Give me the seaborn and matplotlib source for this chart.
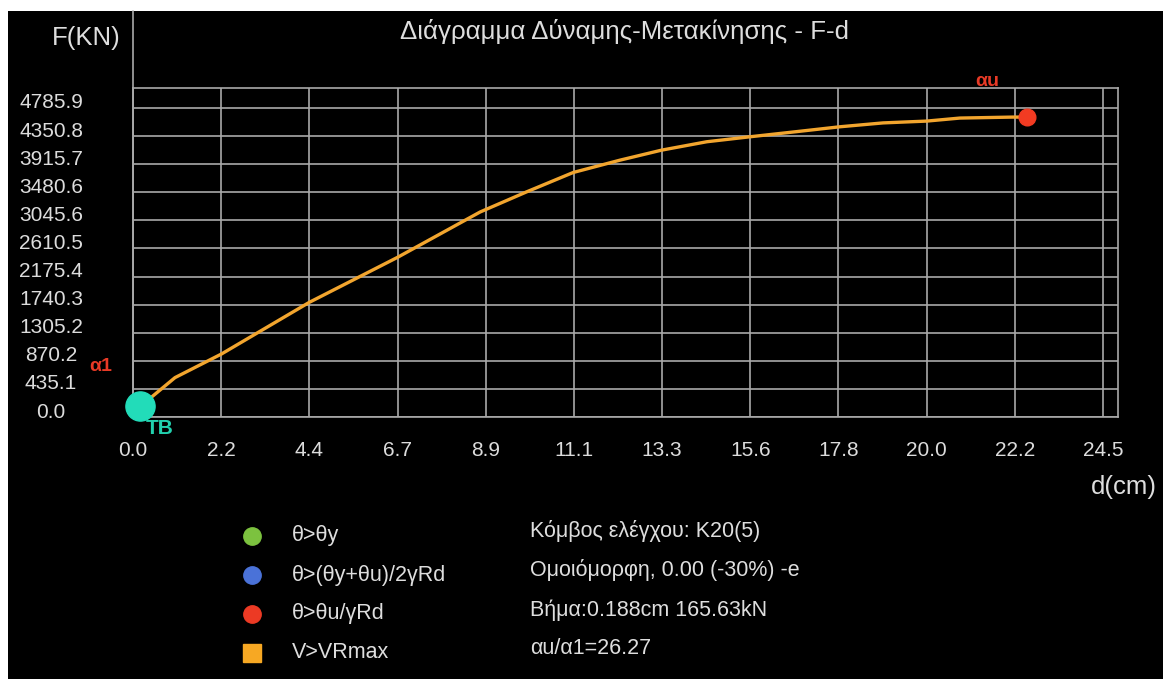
import numpy as np
import matplotlib
matplotlib.use("Agg")
import matplotlib.pyplot as plt
from matplotlib.lines import Line2D
from matplotlib.patches import Rectangle
from matplotlib.transforms import ScaledTranslation
import pandas as pd
import seaborn as sns

# Pushover curve: control-node displacement d (cm) against base shear F (kN)
d_cm = [0.188, 1.06, 2.23, 4.45, 6.68, 8.76, 9.93, 11.11, 12.29, 13.34,
        14.48, 15.57, 16.75, 17.84, 18.93, 20.03, 20.87, 22.20, 22.56]
F_kN = [165.63, 610, 975, 1776, 2474, 3175, 3486, 3787, 3978, 4133,
        4263, 4340, 4420, 4495, 4555, 4583, 4630, 4645, 4645]

# axis ticks
x_tick_labels = ["0.0", "2.2", "4.4", "6.7", "8.9", "11.1", "13.3",
                 "15.6", "17.8", "20.0", "22.2", "24.5"]
x_tick_step = 2.2255
y_tick_labels = ["0.0", "435.1", "870.2", "1305.2", "1740.3", "2175.4",
                 "2610.5", "3045.6", "3480.6", "3915.7", "4350.8", "4785.9"]
y_tick_step = 435.08

# hinge-state legend
legend_labels = ["θ>θy", "θ>(θy+θu)/2γRd", "θ>θu/γRd", "V>VRmax"]
legend_colors = ["#7cc23f", "#4a72d8", "#ec3a24", "#f7a823"]
legend_markers = ["o", "o", "o", "s"]

# analysis info
info_lines = ["Κόμβος ελέγχου: K20(5)",
              "Ομοιόμορφη, 0.00 (-30%) -e",
              "Βήμα:0.188cm 165.63kN",
              "αu/α1=26.27"]

sns.set_theme(style="dark")
plt.rcParams["font.family"] = ["Liberation Sans", "DejaVu Sans"]

W, H = 1163, 679
fig = plt.figure(figsize=(W / 100, H / 100), dpi=100, facecolor="white")
fig.add_artist(Rectangle((8 / W, 0), 1 - 8 / W, 1 - 11 / H,
                         transform=fig.transFigure, facecolor="black",
                         edgecolor="none", zorder=0))

ax = fig.add_axes([133 / W, 1 - 417 / H, 985 / W, 329 / H])
ax.set_facecolor("black")

df = pd.DataFrame({"d": d_cm, "F": F_kN})
sns.lineplot(data=df, x="d", y="F", ax=ax, color="#f2a52e", lw=2.4,
             sort=False, estimator=None, zorder=3)

# yield point and ultimate point
first = df.iloc[0]
last = df.iloc[-1]
ax.plot([first.d], [first.F], "o", ms=21, color="#22dcb9", zorder=5,
        clip_on=False)
ax.plot([last.d], [last.F], "o", ms=12, color="#f23b22", zorder=5,
        clip_on=False)
ax.annotate("α1", (first.d, first.F), xytext=(-40, 40),
            textcoords="offset pixels", ha="center", va="center",
            color="#e83a26", fontsize=14, fontweight="bold",
            annotation_clip=False)
ax.annotate("TB", (first.d, first.F), xytext=(19, -22),
            textcoords="offset pixels", ha="center", va="center",
            color="#22d0ae", fontsize=15, fontweight="bold",
            annotation_clip=False)
ax.annotate("αu", (last.d, last.F), xytext=(-40, 36),
            textcoords="offset pixels", ha="center", va="center",
            color="#e83a26", fontsize=14, fontweight="bold",
            annotation_clip=False)

# axes, grid and ticks
n_x = len(x_tick_labels)
n_y = len(y_tick_labels)
ax.set_xlim(0, (n_x - 1) * x_tick_step + 15 / 88.2 * x_tick_step)
ax.set_ylim(0, (n_y - 1) * y_tick_step + 20 / 28.1 * y_tick_step)
ax.set_xticks(np.arange(n_x) * x_tick_step)
ax.set_xticklabels(x_tick_labels)
ax.set_yticks(np.arange(n_y) * y_tick_step)
ax.set_yticklabels(y_tick_labels)
grid_c = "#a9a9a9"
ax.grid(True, color=grid_c, lw=1.2)
for s in ax.spines.values():
    s.set_visible(True)
    s.set_color(grid_c)
    s.set_linewidth(1.2)
ax.axvline(0, ymin=0, ymax=(417 - 11) / 329, color=grid_c, lw=1.2,
           clip_on=False, zorder=2)
ax.tick_params(axis="both", length=0, labelsize=15, labelcolor="#dcdcdc")
ax.tick_params(axis="x", pad=17.5)
ax.tick_params(axis="y", pad=59)
shift = ScaledTranslation(0, 7 / 100, fig.dpi_scale_trans)
for lab in ax.get_yticklabels():
    lab.set_horizontalalignment("center")
    lab.set_transform(lab.get_transform() + shift)
ax.set_xlabel("")
ax.set_ylabel("")

txt_c = "#dedede"
fig.text(624 / W, 1 - 32 / H, "Διάγραμμα Δύναμης-Μετακίνησης - F-d",
         ha="center", va="center", fontsize=18.6, color=txt_c)
fig.text(86 / W, 1 - 38 / H, "F(KN)", ha="center", va="center",
         fontsize=18.5, color=txt_c)
fig.text(1124 / W, 1 - 487 / H, "d(cm)", ha="center", va="center",
         fontsize=18.5, color=txt_c)

# legend of hinge states
rows_y = [536, 575, 614, 653]
for lab, col, mk, yy in zip(legend_labels, legend_colors, legend_markers, rows_y):
    fig.add_artist(Line2D([252 / W], [1 - yy / H], marker=mk,
                          ms=12.5 if mk == "o" else 13,
                          color=col, transform=fig.transFigure, linestyle="none"))
    fig.text(292 / W, 1 - yy / H, lab, ha="left", va="center",
             fontsize=15.5, color=txt_c)

for line, yy in zip(info_lines, [531, 570, 610, 649]):
    fig.text(530 / W, 1 - yy / H, line, ha="left", va="center",
             fontsize=15.5, color=txt_c)

fig.savefig("out.png", dpi=100, facecolor=fig.get_facecolor())
